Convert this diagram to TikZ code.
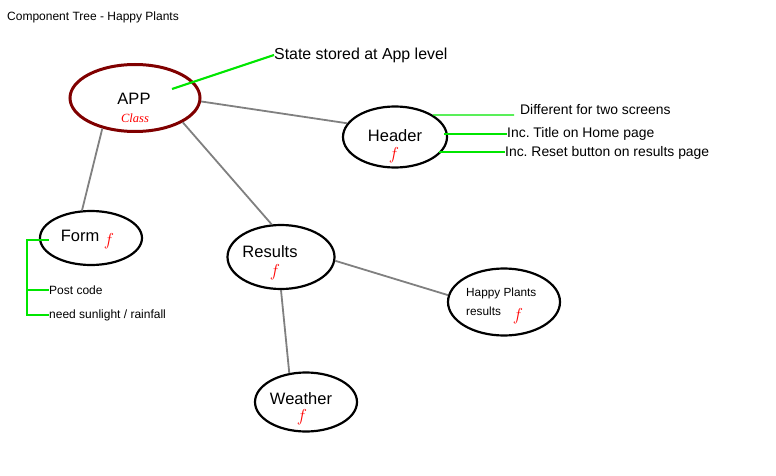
\documentclass[tikz,border=0pt]{standalone}
\usepackage{fontspec}
\setmainfont{Liberation Sans}
\newfontfamily\serifit{Liberation Serif}
\usetikzlibrary{shapes.geometric}
\frenchspacing
\definecolor{darkred}{RGB}{128,0,0}
\definecolor{fred}{RGB}{255,0,0}
\definecolor{lgreen}{RGB}{0,230,0}
\definecolor{conn}{RGB}{128,128,128}
\tikzset{
  comp/.style={ellipse, draw=black, line width=2.2pt, inner sep=0pt},
  lbl/.style={inner sep=0pt, text=black},
  fn/.style={inner sep=0pt, text=fred, font=\fontsize{17}{17}\selectfont},
  link/.style={draw=conn, line width=1.8pt},
  note/.style={draw=lgreen, line width=1.3pt},
  ntext/.style={inner sep=0pt, anchor=west, text=black}
}
\begin{document}
\begin{tikzpicture}[x=1pt,y=-1pt]
\useasboundingbox (0,0) rectangle (776,476);
% title
\node[ntext, font=\fontsize{12}{12}\selectfont] (title) at (7,17) {Component Tree - Happy Plants};
% ellipses
\node[comp, draw=darkred, line width=3pt, minimum width=130pt, minimum height=67pt] (app) at (135,98) {};
\node[comp, minimum width=104pt, minimum height=61pt] (header) at (395,137) {};
\node[comp, minimum width=102pt, minimum height=54pt] (form) at (91,238) {};
\node[comp, minimum width=107pt, minimum height=64pt] (results) at (281,257) {};
\node[comp, minimum width=112pt, minimum height=67pt] (happy) at (504,302) {};
\node[comp, minimum width=102pt, minimum height=59pt] (weather) at (306,402) {};
% labels
\node[lbl, font=\fontsize{16.5}{16.5}\selectfont] (appl) at (134,99) {APP};
\node[lbl, text=fred, font=\serifit\itshape\fontsize{12.5}{12.5}\selectfont] (appc) at (135,118) {Class};
\node[lbl, font=\fontsize{16.5}{16.5}\selectfont] (headerl) at (395,136) {Header};
\node[fn] (headerf) at (394,155) {$f$};
\node[lbl, font=\fontsize{16.5}{16.5}\selectfont] (forml) at (80,236) {Form};
\node[fn] (formf) at (109,241) {$f$};
\node[lbl, font=\fontsize{16.5}{16.5}\selectfont] (resultsl) at (270,252) {Results};
\node[fn] (resultsf) at (275,272) {$f$};
\node[ntext, font=\fontsize{11.8}{11.8}\selectfont] (happyl) at (466,293) {Happy Plants};
\node[ntext, font=\fontsize{11.8}{11.8}\selectfont] (happyl2) at (466,311) {results};
\node[fn] (happyf) at (518,316) {$f$};
\node[lbl, font=\fontsize{16.5}{16.5}\selectfont] (weatherl) at (301,399) {Weather};
\node[fn] (weatherf) at (302,417) {$f$};
% connectors
\draw[link] (app.-3) -- (header.164);
\draw[link] (app.223) -- (form.108);
\draw[link] (app.-27) -- (results.106);
\draw[link] (results.-4) -- (happy.173);
\draw[link] (results.-90) -- (weather.120);
% notes
\node[ntext, font=\fontsize{15.9}{15.9}\selectfont] (state) at (274,55) {State stored at App level};
\coordinate (appin) at (172,89);
\draw[note, line width=2.2pt] (appin) -- (state.west);
\node[ntext, font=\fontsize{13.9}{13.9}\selectfont] (n1) at (520,110) {Different for two screens};
\node[ntext, font=\fontsize{13.9}{13.9}\selectfont] (n2) at (507,134) {Inc. Title on Home page};
\node[ntext, font=\fontsize{13.9}{13.9}\selectfont] (n3) at (505,153) {Inc. Reset button on results page};
\coordinate (n1e) at (514,115);
\coordinate (h2) at (444,134);
\coordinate (h3) at (439,152);
\draw[note] (header.30) -- (n1e);
\draw[note] (h2) -- (n2.west);
\draw[note] (h3) -- (h3 -| n3.west);
% form bracket
\node[ntext, font=\fontsize{12}{12}\selectfont] (pc) at (49,290) {Post code};
\node[ntext, font=\fontsize{12}{12}\selectfont] (ns) at (49,315) {need sunlight / rainfall};
\coordinate (fb) at (49,240);
\coordinate (bt) at (27,240);
\draw[note] (fb) -- (bt) -- (bt |- ns.west) -- (ns.west);
\draw[note] (bt |- pc.west) -- (pc.west);
\end{tikzpicture}
\end{document}
